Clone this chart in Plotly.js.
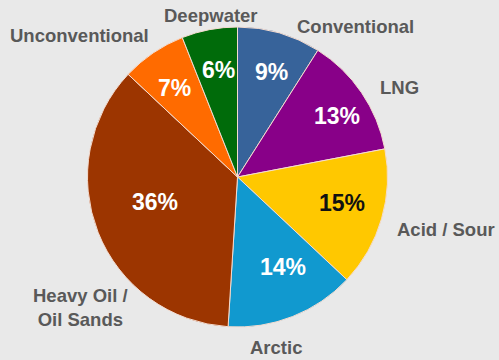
<!DOCTYPE html>
<html>
<head>
<meta charset="utf-8">
<script src="https://cdn.plot.ly/plotly-3.0.1.min.js"></script>
<style>html,body{margin:0;padding:0;background:#e9e9e9;}#chart{width:499px;height:360px;}</style>
</head>
<body>
<div id="chart"></div>
<script>
var categories = ["Conventional", "LNG", "Acid / Sour", "Arctic", "Heavy Oil /<br>Oil Sands", "Unconventional", "Deepwater"];
var shares = [9, 13, 15, 14, 36, 7, 6];
var sliceColors = ["#37639a", "#880088", "#ffc800", "#1199cf", "#9c3500", "#ff6b00", "#006b0a"];
var pctColors = ["#ffffff", "#ffffff", "#111111", "#ffffff", "#ffffff", "#ffffff", "#ffffff"];
// text anchor positions (pixels) for category names and percentages
var labelPos = [[355, 27], [399, 87], [446, 230], [276, 347], [80, 307], [79, 36], [211, 16]];
var pctPos = [[271, 72], [337, 116], [342, 203], [283, 267], [155, 202], [174, 88], [218, 70]];

var W = 499, H = 360;
var FONT = "Liberation Sans, Arial, sans-serif";
var trace = {
  type: "pie",
  labels: categories,
  values: shares,
  sort: false,
  direction: "clockwise",
  rotation: 0,
  marker: {colors: sliceColors, line: {color: "#f4dcd0", width: 1}},
  textinfo: "none",
  hoverinfo: "none",
  showlegend: false,
  domain: {x: [87.5 / W, 387.5 / W], y: [(H - 327) / H, (H - 27) / H]}
};

var annotations = [];
categories.forEach(function (c, i) {
  annotations.push({
    text: "<b>" + c + "</b>",
    x: labelPos[i][0] / W, y: 1 - labelPos[i][1] / H,
    xref: "paper", yref: "paper", xanchor: "center", yanchor: "middle",
    showarrow: false,
    font: {family: FONT, size: 18.5, color: "#595959"}
  });
  annotations.push({
    text: "<b>" + shares[i] + "%</b>",
    x: pctPos[i][0] / W, y: 1 - pctPos[i][1] / H,
    xref: "paper", yref: "paper", xanchor: "center", yanchor: "middle",
    showarrow: false,
    font: {family: FONT, size: 23, color: pctColors[i]}
  });
});

Plotly.newPlot("chart", [trace], {
  width: W, height: H,
  margin: {l: 0, r: 0, t: 0, b: 0},
  paper_bgcolor: "#e9e9e9",
  plot_bgcolor: "#e9e9e9",
  annotations: annotations
}, {displayModeBar: false, staticPlot: true});
</script>
</body>
</html>
